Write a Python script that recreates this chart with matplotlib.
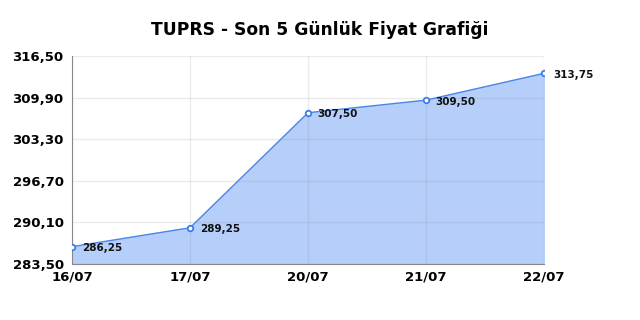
import matplotlib
matplotlib.use("Agg")
import matplotlib.pyplot as plt

dates = ["16/07", "17/07", "20/07", "21/07", "22/07"]
prices = [286.25, 289.25, 307.50, 309.50, 313.75]
yticks = [283.50, 290.10, 296.70, 303.30, 309.90, 316.50]

def tr(v):
    return ("%.2f" % v).replace(".", ",")

fig = plt.figure(figsize=(6.4, 3.2), dpi=100)
ax = fig.add_axes([0.1125, 0.175, 0.7375, 0.65])
x = list(range(len(dates)))

ax.fill_between(x, prices, yticks[0], color="#b5cffa", zorder=1)
ax.plot(x, prices, color="#4a86e8", linewidth=1, marker="o", markersize=4,
        markerfacecolor="white", markeredgecolor="#3b7de8", markeredgewidth=1.3, zorder=4)
for xi, p in zip(x, prices):
    ax.annotate(tr(p), (xi, p), xytext=(7, -1), textcoords="offset points",
                fontsize=7.5, fontweight="bold", va="center", ha="left",
                color="#111111", zorder=5, annotation_clip=False)

ax.set_xlim(0, len(dates) - 1)
ax.set_ylim(yticks[0], yticks[-1])
ax.set_xticks(x)
ax.set_xticklabels(dates, fontsize=9.5, fontweight="bold")
ax.set_yticks(yticks)
ax.set_yticklabels([tr(v) for v in yticks], fontsize=9.5, fontweight="bold")
ax.tick_params(axis="y", length=0, pad=6)
ax.tick_params(axis="x", length=0, pad=5)
ax.grid(True, color="#7f7f7f", alpha=0.15, linewidth=1, zorder=2)
ax.set_axisbelow(False)
for s in ["top", "right"]:
    ax.spines[s].set_visible(False)
for s in ["left", "bottom"]:
    ax.spines[s].set_color("#888888")
    ax.spines[s].set_zorder(3)

fig.suptitle("TUPRS - Son 5 Günlük Fiyat Grafiği", fontsize=12.3, fontweight="bold", y=0.935)
fig.savefig("out.png", dpi=100)
